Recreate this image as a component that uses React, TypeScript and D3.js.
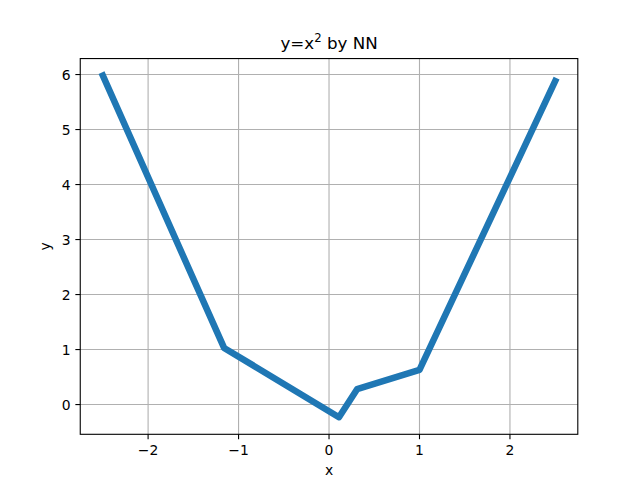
import React from "react";
import * as d3 from "d3";

const xs = [-2.5, -1.16, 0.11, 0.31, 1.0, 2.5];
const ys = [5.98, 1.03, -0.23, 0.28, 0.63, 5.88];
const xTicks = [-2, -1, 0, 1, 2];
const yTicks = [0, 1, 2, 3, 4, 5, 6];

const W = 642, H = 488;
const L = 80.25, R = 577.8, T = 58.56, B = 434.3;

export default function App() {
  const xExt = d3.extent(xs) as [number, number];
  const yExt = d3.extent(ys) as [number, number];
  const xm = (xExt[1] - xExt[0]) * 0.05;
  const ym = (yExt[1] - yExt[0]) * 0.05;
  const x = d3.scaleLinear().domain([xExt[0] - xm, xExt[1] + xm]).range([L, R]);
  const y = d3.scaleLinear().domain([yExt[0] - ym, yExt[1] + ym]).range([B, T]);
  const pts = xs.map((v, i) => [v, ys[i]] as [number, number]);
  const line = d3.line<[number, number]>().x(d => x(d[0])).y(d => y(d[1]));
  const font = "DejaVu Sans, sans-serif";
  const fs = 13.9;
  return (
    <svg width={W} height={H} style={{ position: "absolute", left: 0, top: 0, background: "#fff" }}>
      <rect x={0} y={0} width={W} height={H} fill="#fff" />
      <g stroke="#b0b0b0" strokeWidth={1.1}>
        {xTicks.map(t => <line key={"gx" + t} x1={x(t)} x2={x(t)} y1={T} y2={B} />)}
        {yTicks.map(t => <line key={"gy" + t} x1={L} x2={R} y1={y(t)} y2={y(t)} />)}
      </g>
      <path d={line(pts) ?? ""} fill="none" stroke="#1f77b4" strokeWidth={6.5} strokeLinejoin="round" strokeLinecap="square" />
      <rect x={L} y={T} width={R - L} height={B - T} fill="none" stroke="#000" strokeWidth={1.1} />
      <g fontFamily={font} fontSize={fs} fill="#000">
        {xTicks.map(t => (
          <g key={"tx" + t}>
            <line x1={x(t)} x2={x(t)} y1={B} y2={B + 4.9} stroke="#000" strokeWidth={1.1} />
            <text x={x(t)} y={B + 20.5} textAnchor="middle">{t < 0 ? "\u2212" + Math.abs(t) : t}</text>
          </g>
        ))}
        {yTicks.map(t => (
          <g key={"ty" + t}>
            <line x1={L - 4.9} x2={L} y1={y(t)} y2={y(t)} stroke="#000" strokeWidth={1.1} />
            <text x={L - 9.7} y={y(t) + 5} textAnchor="end">{t}</text>
          </g>
        ))}
        <text x={(L + R) / 2} y={475} textAnchor="middle">x</text>
        <text transform={`translate(50,${(T + B) / 2}) rotate(-90)`} textAnchor="middle">y</text>
      </g>
      <text x={(L + R) / 2} y={48.5} textAnchor="middle" fontFamily={font} fontSize={16.7} fill="#000">
        y=x<tspan dy={-6.5} fontSize={11.7}>2</tspan><tspan dy={6.5}> by NN</tspan>
      </text>
    </svg>
  );
}
